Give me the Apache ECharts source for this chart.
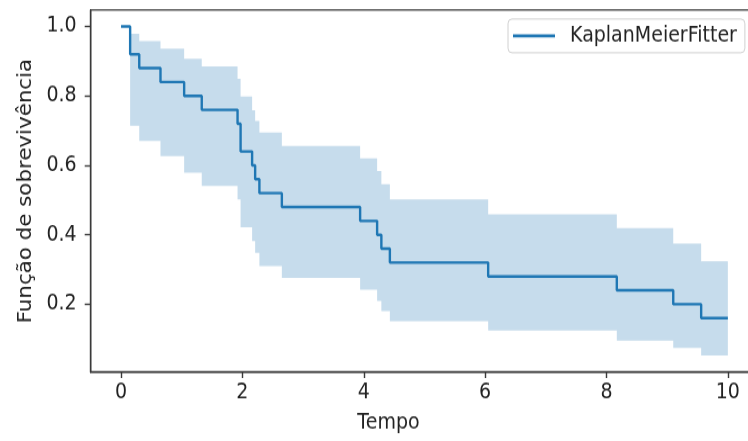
<!DOCTYPE html>
<html>
<head>
<meta charset="utf-8">
<script src="https://cdn.jsdelivr.net/npm/echarts@6/dist/echarts.min.js"></script>
<style>
  html, body { margin: 0; padding: 0; background: #fff; }
  html { overflow: hidden; }
  body { width: 748px; height: 441px; }
  /* the figure is drawn slightly taller than wide, so the chart is stretched vertically */
  #chart { width: 748px; height: 392px; transform: scaleY(1.125); transform-origin: 0 0; }
</style>
</head>
<body>
<div id="chart"></div>
<script>
// Kaplan-Meier estimate: event times, survival probability and its confidence band
const times     = [0, 0.15, 0.30, 0.65, 1.04, 1.33, 1.92, 1.97, 2.16, 2.21, 2.28, 2.65, 3.94, 4.22, 4.29, 4.43, 6.05, 8.17, 9.10, 9.56, 10.0];
const survival  = [1.00, 0.92, 0.88, 0.84, 0.80, 0.76, 0.72, 0.64, 0.60, 0.56, 0.52, 0.48, 0.44, 0.40, 0.36, 0.32, 0.28, 0.24, 0.20, 0.16, 0.16];
const ciUpper   = [1.000, 0.979, 0.958, 0.936, 0.907, 0.885, 0.849, 0.798, 0.759, 0.728, 0.695, 0.656, 0.620, 0.584, 0.546, 0.502, 0.459, 0.419, 0.375, 0.324, 0.324];
const ciLower   = [1.000, 0.714, 0.670, 0.627, 0.579, 0.541, 0.502, 0.422, 0.382, 0.348, 0.310, 0.276, 0.242, 0.209, 0.180, 0.151, 0.124, 0.095, 0.074, 0.052, 0.052];

const xTicks = [0, 2, 4, 6, 8, 10];
const yTicks = [0.2, 0.4, 0.6, 0.8, 1.0];

const seriesName = 'KaplanMeierFitter';
const xTitle = 'Tempo';
const yTitle = 'Função de sobrevivência';

const FONT = 'DejaVu Sans';
const TEXT = '#222';
const SPINE = '#3a3a3a';

const chart = echarts.init(document.getElementById('chart'), null, { renderer: 'canvas' });

// confidence band as one post-step polygon: upper edge forward, lower edge back
function renderBand(params, api) {
  if (params.dataIndex !== 0) return null;
  const pts = [];
  for (let i = 0; i < times.length - 1; i++) {
    pts.push(api.coord([times[i], ciUpper[i]]));
    pts.push(api.coord([times[i + 1], ciUpper[i]]));
  }
  for (let i = times.length - 2; i >= 0; i--) {
    pts.push(api.coord([times[i + 1], ciLower[i]]));
    pts.push(api.coord([times[i], ciLower[i]]));
  }
  return {
    type: 'polygon',
    shape: { points: pts },
    style: { fill: 'rgb(198,220,236)', stroke: null }
  };
}

chart.setOption({
  animation: false,
  textStyle: { fontFamily: FONT },
  grid: {
    left: 90.7, top: 8.9, width: 667.5, height: 321.8,
    outerBoundsMode: 'none',
    show: true, borderColor: SPINE, borderWidth: 1.4, backgroundColor: 'transparent'
  },
  legend: {
    data: [seriesName],
    left: 508, top: 16.9,
    padding: [5.5, 8, 5.5, 5],
    icon: 'rect', itemWidth: 42, itemHeight: 2.6,
    borderColor: '#d0d0d0', borderWidth: 1, borderRadius: 4,
    backgroundColor: '#fff',
    textStyle: { fontFamily: FONT, fontSize: 19, color: TEXT, padding: [0, 0, 0, 10] }
  },
  xAxis: {
    type: 'value', min: -0.5, max: 10.5,
    name: xTitle, nameLocation: 'middle', nameGap: 36,
    nameTextStyle: { fontFamily: FONT, fontSize: 19, color: TEXT, padding: [0, 72, 0, 0] },
    axisLine: { show: true, onZero: false, lineStyle: { color: SPINE, width: 1.4 } },
    axisTick: { show: true, customValues: xTicks, length: 5.3, lineStyle: { color: SPINE, width: 1.4 } },
    axisLabel: { customValues: xTicks, margin: 9, fontFamily: FONT, fontSize: 19, color: TEXT,
                 formatter: v => String(Math.round(v)) },
    splitLine: { show: false }
  },
  yAxis: {
    type: 'value', min: 0.0046, max: 1.0474,
    name: yTitle, nameLocation: 'middle', nameGap: 54,
    nameTextStyle: { fontFamily: FONT, fontSize: 19, color: TEXT },
    axisLine: { show: true, onZero: false, lineStyle: { color: SPINE, width: 1.4 } },
    axisTick: { show: true, customValues: yTicks, length: 6, lineStyle: { color: SPINE, width: 1.4 } },
    axisLabel: { customValues: yTicks, margin: 14, fontFamily: FONT, fontSize: 19, color: TEXT,
                 formatter: v => v.toFixed(1) },
    splitLine: { show: false }
  },
  series: [
    {
      name: 'ci',
      type: 'custom',
      renderItem: renderBand,
      data: times.map((t, i) => [t, ciLower[i], ciUpper[i]]),
      encode: { x: 0, y: [1, 2] },
      silent: true,
      z: 1
    },
    {
      name: seriesName,
      type: 'line',
      step: 'end',
      data: times.map((t, i) => [t, survival[i]]),
      showSymbol: false,
      lineStyle: { color: '#1f77b4', width: 2.4 },
      itemStyle: { color: '#1f77b4' },
      z: 3
    }
  ]
});
</script>
</body>
</html>
